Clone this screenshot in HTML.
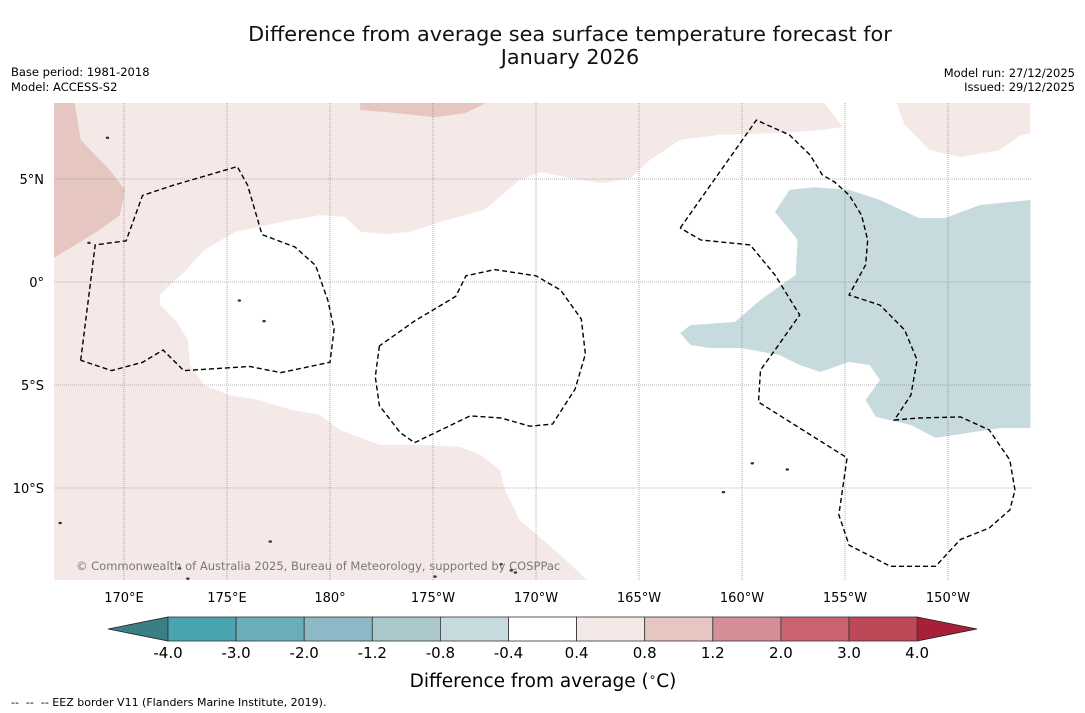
<!DOCTYPE html>
<html><head><meta charset="utf-8"><style>
body{margin:0;background:#fff;font-family:"DejaVu Sans","Liberation Sans",sans-serif}
svg{display:block}
</style></head><body>
<svg id="chart" width="1085" height="713" xmlns="http://www.w3.org/2000/svg">
<text x="570" y="41" text-anchor="middle" font-size="20.8" fill="#111">Difference from average sea surface temperature forecast for</text>
<text x="570" y="64" text-anchor="middle" font-size="20.8" fill="#111">January 2026</text>
<text x="11" y="76" font-size="11.5">Base period: 1981-2018</text>
<text x="11" y="91" font-size="11.5">Model: ACCESS-S2</text>
<text x="1075" y="77" text-anchor="end" font-size="11.5">Model run: 27/12/2025</text>
<text x="1075" y="91" text-anchor="end" font-size="11.5">Issued: 29/12/2025</text>
<g id="map"></g>
<g id="cbar"></g>
<text x="543" y="687" text-anchor="middle" font-size="18.5">Difference from average (<tspan font-size="12" dy="-6">∘</tspan><tspan dy="6">C)</tspan></text>
<text x="11" y="706" font-size="11" xml:space="preserve">--  --  -- EEZ border V11 (Flanders Marine Institute, 2019).</text>
</svg>
<script>
const NS="http://www.w3.org/2000/svg";
const lonTicks=[170,175,180,185,190,195,200,205,210];
const lonLabels=["170°E","175°E","180°","175°W","170°W","165°W","160°W","155°W","150°W"];
const latTicks=[5,0,-5,-10];
const latLabels=["5°N","0°","5°S","10°S"];
const levels=[-4.0,-3.0,-2.0,-1.2,-0.8,-0.4,0.4,0.8,1.2,2.0,3.0,4.0];
const levelLabels=["-4.0","-3.0","-2.0","-1.2","-0.8","-0.4","0.4","0.8","1.2","2.0","3.0","4.0"];
const binColors=["#4aa3b1","#6aaeba","#8bb9c5","#aac8cc","#c7dadd","#ffffff","#f5e9e7","#e6c6c1","#d58e95","#c8636f","#bd4858"];
const extendColors=["#3b7f86","#a81f3a"];
const pinkRegion=[[166.6,8.7],[166.6,-14.6],[192.6,-14.6],[191.2,-13.25],[189.2,-11.55],[188.5,-10.1],[188.25,-9.13],[187.3,-8.4],[186.3,-8.0],[183.9,-7.9],[182.4,-7.9],[180.5,-7.2],[179.5,-6.45],[178.1,-6.2],[176.4,-5.7],[175.1,-5.5],[173.9,-5.0],[173.2,-4.0],[173.1,-2.8],[172.5,-1.85],[171.75,-1.1],[171.75,-0.63],[173.0,0.58],[173.9,1.55],[175.4,2.43],[177.6,2.9],[179.5,3.25],[180.7,3.16],[181.5,2.43],[182.7,2.33],[183.9,2.43],[185.3,2.9],[187.5,3.5],[189.2,4.95],[190.2,5.34],[192.1,4.95],[193.35,4.8],[194.6,5.05],[195.5,5.9],[197.0,6.9],[198.9,7.14],[201.8,7.23],[203.8,7.38],[204.9,7.52],[204.0,8.7]];
const pinkRegion2=[[207.5,8.7],[207.9,7.62],[209.1,6.4],[210.6,6.07],[212.5,6.4],[213.5,7.1],[214.0,7.23],[214.0,8.7]];
const darkRegion=[[166.6,8.7],[167.6,8.7],[167.9,6.9],[169.3,5.44],[170.05,4.47],[169.8,3.25],[168.8,2.52],[166.6,1.17]];
const darkRegion2=[[181.46,8.7],[181.46,8.35],[182.7,8.25],[185.1,8.0],[186.55,8.2],[187.6,8.7]];
const blueRegion=[[197.0,-2.48],[197.5,-2.09],[199.66,-1.94],[200.9,-0.87],[202.6,0.34],[202.7,2.04],[201.6,3.4],[202.3,4.47],[203.5,4.6],[205.2,4.47],[206.7,3.98],[208.6,3.1],[209.85,3.1],[211.55,3.74],[214.0,3.98],[214.0,-7.09],[212.5,-7.09],[209.4,-7.57],[208.2,-6.94],[206.5,-6.55],[206.0,-5.73],[206.7,-4.76],[206.2,-4.03],[205.2,-3.88],[203.8,-4.37],[202.8,-4.03],[201.8,-3.54],[199.9,-3.2],[198.4,-3.2],[197.5,-3.06]];
const eez1=[[167.9,-3.8],[168.6,1.8],[170.1,2.0],[170.9,4.2],[172.4,4.7],[175.5,5.6],[176.0,4.7],[176.7,2.3],[178.3,1.7],[179.3,0.8],[179.9,-0.9],[180.2,-2.3],[180.0,-3.9],[177.6,-4.4],[176.1,-4.1],[172.9,-4.3],[171.9,-3.3],[170.9,-3.9],[169.4,-4.3],[167.9,-3.8]];
const eez2=[[182.4,-3.1],[182.2,-4.6],[182.4,-6.0],[183.4,-7.3],[184.1,-7.8],[186.8,-6.5],[188.3,-6.6],[189.7,-7.0],[190.8,-6.9],[191.9,-5.2],[192.4,-3.5],[192.2,-1.8],[191.2,-0.4],[190.0,0.3],[188.0,0.6],[186.6,0.3],[186.1,-0.7],[184.1,-1.9],[182.4,-3.1]];
const eez3=[[197.0,2.62],[200.7,7.86],[202.3,7.14],[203.3,6.17],[203.9,5.2],[204.5,4.85],[205.2,4.22],[205.8,3.25],[206.1,2.04],[206.0,0.83],[205.2,-0.63],[206.7,-1.12],[207.9,-2.33],[208.5,-3.79],[208.2,-5.49],[207.4,-6.7],[208.6,-6.6],[210.6,-6.55],[212.0,-7.18],[213.0,-8.64],[213.25,-10.1],[213.0,-11.07],[212.0,-11.94],[210.6,-12.5],[209.4,-13.8],[207.2,-13.8],[205.2,-12.77],[204.7,-11.3],[205.1,-8.54],[200.8,-5.83],[200.9,-4.27],[201.6,-3.3],[202.8,-1.6],[201.6,0.34],[200.4,1.8],[198.0,2.04],[197.0,2.62]];
const islands=[[172.7,-13.9],[173.1,-14.4],[188.3,-13.7],[188.8,-14.0],[189.0,-14.1],[166.9,-11.7],[177.1,-12.6],[185.1,-14.3],[200.5,-8.8],[202.2,-9.1],[199.1,-10.2],[168.3,1.9],[169.2,7.0],[175.6,-0.9],[176.8,-1.9]];

const X=lon=>124+(lon-170)*20.6;
const Y=lat=>282-lat*20.6;
const L=54,R=1031,T=103,B=580;
const map=document.getElementById('map');
function mk(tag,attrs,parent){const e=document.createElementNS(NS,tag);for(const k in attrs)e.setAttribute(k,attrs[k]);(parent||map).appendChild(e);return e;}
const cp=mk('clipPath',{id:'mc'});mk('rect',{x:L,y:T,width:R-L,height:B-T},cp);
const g=mk('g',{'clip-path':'url(#mc)'});


const pts=a=>a.map(p=>X(p[0]).toFixed(1)+','+Y(p[1]).toFixed(1)).join(' ');
function poly(arr,fill,name){const p=mk('polygon',{points:pts(arr),fill:fill},g);

}
poly(pinkRegion,binColors[6],'anomaly-region-0.4-0.8');
poly(pinkRegion2,binColors[6],'anomaly-region-0.4-0.8-ne');
poly(darkRegion,binColors[7],'anomaly-region-0.8-1.2');
poly(darkRegion2,binColors[7],'anomaly-region-0.8-1.2-north');
poly(blueRegion,binColors[4],'anomaly-region-neg0.8-neg0.4');
lonTicks.forEach((lo,i)=>{const l=mk('line',{x1:X(lo),x2:X(lo),y1:T,y2:B,stroke:'#777','stroke-width':0.6,'stroke-dasharray':'1,1'},g);


const t=mk('text',{x:X(lo),y:602,'text-anchor':'middle','font-size':13});t.textContent=lonLabels[i];

});
latTicks.forEach((la,i)=>{const l=mk('line',{x1:L,x2:R,y1:Y(la),y2:Y(la),stroke:'#777','stroke-width':0.6,'stroke-dasharray':'1,1'},g);


const t=mk('text',{x:44,y:Y(la)+5,'text-anchor':'end','font-size':13});t.textContent=latLabels[i];

});
[eez1,eez2,eez3].forEach(a=>{const p=mk('polyline',{points:pts(a),fill:'none',stroke:'#000','stroke-width':1.4,'stroke-dasharray':'5,3'},g);

});
islands.forEach(p=>{const c=mk('ellipse',{cx:X(p[0]),cy:Y(p[1]),rx:1.6,ry:1,fill:'#444',stroke:'#000','stroke-width':0.4},g);

});
const cr=mk('text',{x:76,y:570,'font-size':11.5,fill:'#777'},g);cr.textContent='© Commonwealth of Australia 2025, Bureau of Meteorology, supported by COSPPac';


const cb=document.getElementById('cbar');
const cx0=168,cw=68.1,cy=617,ch=24;
const bx=i=>cx0+i*cw;
const le=mk('polygon',{points:`${bx(0)},${cy} ${bx(0)},${cy+ch} 108,${cy+ch/2}`,fill:extendColors[0],stroke:'#222','stroke-width':0.8},cb);


const n=levels.length-1;
const re=mk('polygon',{points:`${bx(n)},${cy} ${bx(n)},${cy+ch} 977,${cy+ch/2}`,fill:extendColors[1],stroke:'#222','stroke-width':0.8},cb);


binColors.forEach((c,i)=>{const r=mk('rect',{x:bx(i),y:cy,width:cw,height:ch,fill:c,stroke:'#333','stroke-width':0.8},cb);

});
levelLabels.forEach((s,i)=>{const t=mk('text',{x:bx(i),y:658,'text-anchor':'middle','font-size':15},cb);t.textContent=s;

});
</script>
</body></html>
